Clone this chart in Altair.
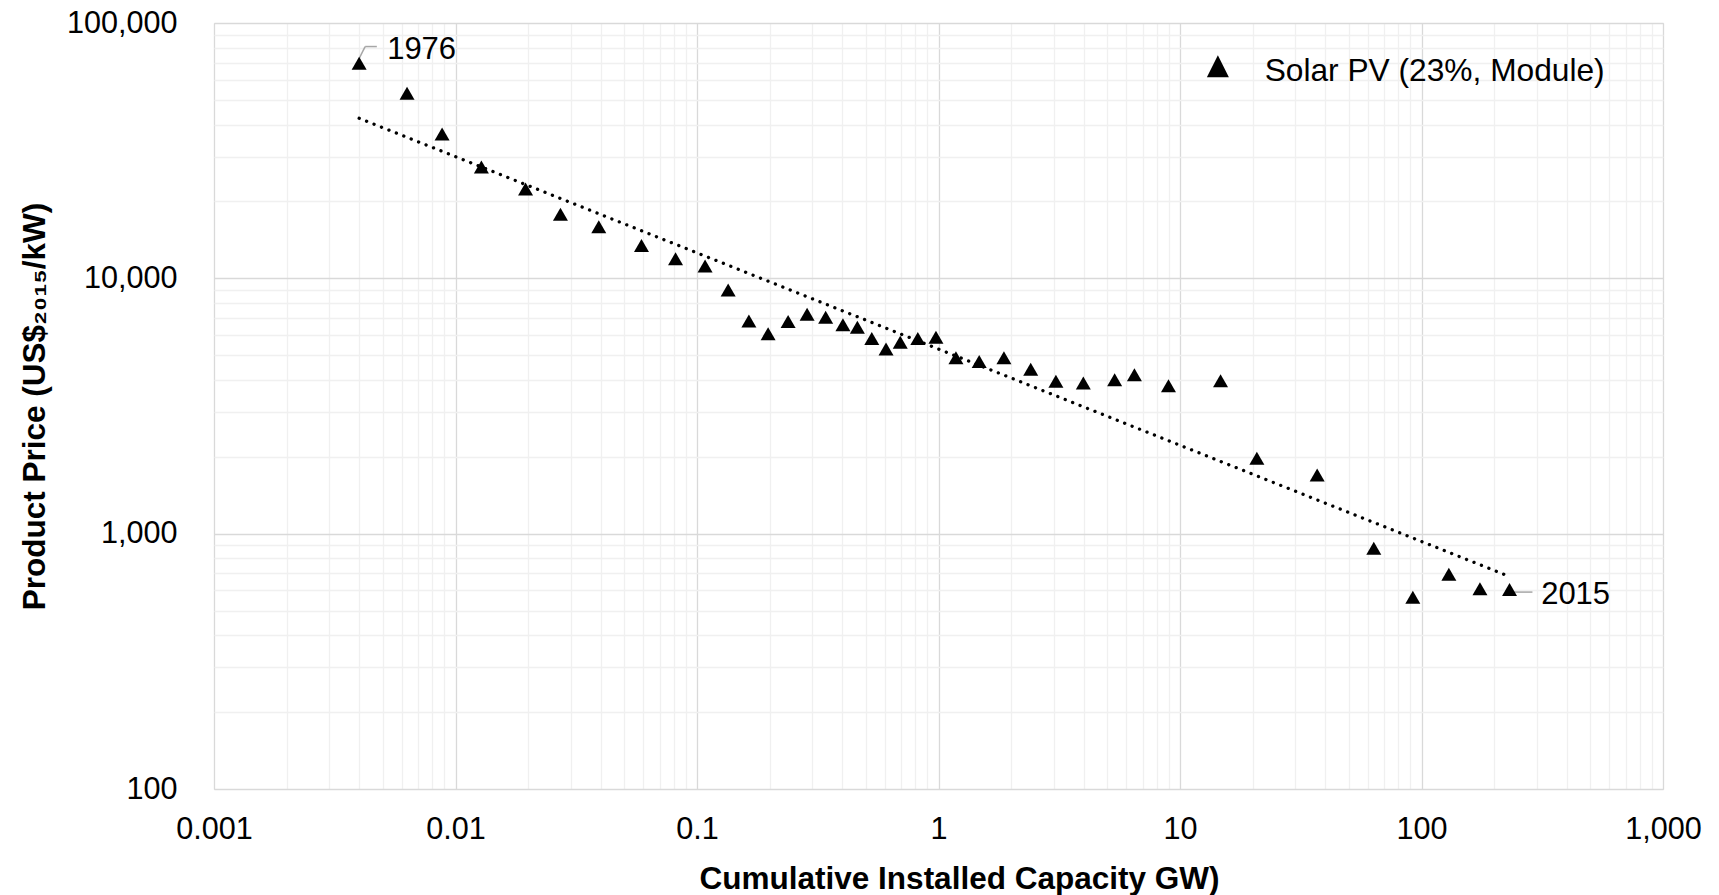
import altair as alt
import pandas as pd

# ---------------- data ----------------
years = list(range(1976, 2016))
capacity_gw = [0.00399, 0.0063, 0.0088, 0.0128, 0.0195, 0.0272, 0.0392, 0.0589, 0.0815, 0.108,
               0.1346, 0.164, 0.197, 0.2384, 0.2857, 0.341, 0.402, 0.4614, 0.5294, 0.6064,
               0.6944, 0.821, 0.976, 1.181, 1.474, 1.866, 2.409, 3.063, 3.978, 5.363,
               6.475, 8.96, 14.72, 20.81, 36.98, 63.45, 92.07, 129.8, 174.6, 231.5]
price_usd_kw = [69500, 53030, 36740, 27290, 22390, 17820, 15910, 13450, 11930, 11180,
                8995, 6813, 6067, 6780, 7230, 7047, 6580, 6440, 5814, 5292,
                5622, 5814, 5872, 4885, 4722, 4885, 4406, 3950, 3893, 4010,
                4193, 3793, 3974, 1974, 1696, 876, 564, 693, 608, 605]
series_name = "Solar PV (23%, Module)"
first_year, last_year = 1976, 2015

x_domain = [0.001, 1000]
y_domain = [100, 100000]
x_grid = [m * 10.0 ** e for e in range(-3, 3) for m in range(1, 10)] + [1000]
y_grid = [m * 10.0 ** e for e in range(2, 5) for m in range(1, 10)] + [100000]

df = pd.DataFrame({"year": years, "cap": capacity_gw, "price": price_usd_kw,
                   "series": [series_name] * len(years)})

FONT = "Liberation Sans"
is_major = "abs(log(datum.value)/LN10 - round(log(datum.value)/LN10)) < 1e-6"
label_expr = f"{is_major} ? format(datum.value, ',~g') : ''"
grid_color = {"condition": {"test": is_major, "value": "#d9d9d9"}, "value": "#f0f0f0"}

x_enc = alt.X("cap:Q",
              scale=alt.Scale(type="log", domain=x_domain, nice=False),
              axis=alt.Axis(values=x_grid, labelExpr=label_expr, labelOverlap=False,
                            labelFlush=False, ticks=False, tickSize=0, domain=False,
                            grid=True, gridColor=grid_color, gridWidth=1.3,
                            labelFont=FONT, labelFontSize=30.6, labelColor="black",
                            labelPadding=25,
                            title="Cumulative Installed Capacity GW)",
                            titleFont=FONT, titleFontSize=31.5, titleFontWeight="bold",
                            titleColor="black", titleX=745, titleY=99,
                            titleBaseline="alphabetic", titleAlign="center"))
y_enc = alt.Y("price:Q",
              scale=alt.Scale(type="log", domain=y_domain, nice=False),
              axis=alt.Axis(values=y_grid, labelExpr=label_expr, labelOverlap=False,
                            labelFlush=False, ticks=False, tickSize=0, domain=False,
                            grid=True, gridColor=grid_color, gridWidth=1.3,
                            labelFont=FONT, labelFontSize=30.6, labelColor="black",
                            labelPadding=37,
                            title="Product Price (US$\u2082\u2080\u2081\u2085/kW)",
                            titleFont=FONT, titleFontSize=31.5, titleFontWeight="bold",
                            titleColor="black", titleX=-170, titleY=383, titleAngle=270,
                            titleBaseline="alphabetic", titleAlign="center"))

base = alt.Chart(df)

points = base.mark_point(shape="triangle-up", filled=True, size=225, opacity=1).encode(
    x=x_enc, y=y_enc,
    color=alt.Color("series:N", scale=alt.Scale(range=["black"]),
                    legend=alt.Legend(title=None, orient="none", legendX=988, legendY=32,
                                      symbolType="M0,-1.41L1,0.59L-1,0.59Z", symbolSize=484,
                                      symbolFillColor="black", symbolStrokeWidth=0,
                                      symbolOpacity=1, labelFont=FONT, labelFontSize=31.7,
                                      labelColor="black", labelOffset=31, labelLimit=0,
                                      padding=0)),
)

trend = base.transform_regression("cap", "price", method="pow").mark_line(
    color="black", strokeDash=[0.1, 7.9], strokeCap="round", strokeWidth=3.3
).encode(x="cap:Q", y="price:Q")

first = base.transform_filter(alt.datum.year == first_year)
last = base.transform_filter(alt.datum.year == last_year)

lead_kw = dict(color="#a6a6a6", strokeWidth=1.5)
lead1a = first.mark_rule(xOffset=-0.7, yOffset=-3.5, x2Offset=6, y2Offset=-16.8, **lead_kw).encode(
    x="cap:Q", y="price:Q", x2="cap:Q", y2="price:Q")
lead1b = first.mark_rule(xOffset=6, yOffset=-16.8, x2Offset=17.7, y2Offset=-16.8, **lead_kw).encode(
    x="cap:Q", y="price:Q", x2="cap:Q", y2="price:Q")
lead2 = last.mark_rule(xOffset=1.2, yOffset=2.7, x2Offset=22.9, y2Offset=2.7, **lead_kw).encode(
    x="cap:Q", y="price:Q", x2="cap:Q", y2="price:Q")

text_kw = dict(font=FONT, fontSize=31, color="black", align="left", baseline="alphabetic")
label1 = first.mark_text(dx=28, dy=-4.5, **text_kw).encode(x="cap:Q", y="price:Q", text="year:N")
label2 = last.mark_text(dx=31.6, dy=15, **text_kw).encode(x="cap:Q", y="price:Q", text="year:N")

chart = alt.layer(lead1a, lead1b, lead2, points, trend, label1, label2).properties(
    width=1449, height=766,
    autosize=alt.AutoSizeParams(type="none"),
    padding={"left": 214, "top": 23, "right": 56, "bottom": 106},
).configure_view(stroke="black", strokeWidth=1.5).configure(background="white")

chart.save("out.html", embed_options={"renderer": "svg", "actions": False})
